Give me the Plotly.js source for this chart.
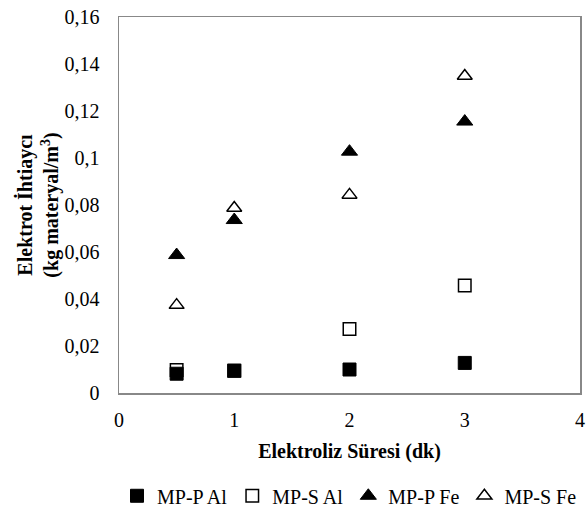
<!DOCTYPE html>
<html>
<head>
<meta charset="utf-8">
<script src="https://cdn.plot.ly/plotly-3.0.1.min.js"></script>
<style>html,body{margin:0;padding:0;background:#fff;}#chart{width:586px;height:509px;}</style>
</head>
<body>
<div id="chart"></div>
<script>
const times = [0.5, 1, 2, 3];
const mppAl = [0.0082, 0.0095, 0.0100, 0.0128];
const mpsAl = [0.0098, 0.0095, 0.0272, 0.0457];
const mppFe = [0.0587, 0.0736, 0.1027, 0.1155];
const mpsFe = [0.0374, 0.0787, 0.0843, 0.1349];
const seriesNames = ["MP-P Al", "MP-S Al", "MP-P Fe", "MP-S Fe"];

const ctx = document.createElement("canvas").getContext("2d");
function measure(txt, fam, size, bold) {
  ctx.font = (bold ? "bold " : "") + size + "px \"" + fam + "\", monospace";
  return ctx.measureText(txt).width;
}
const candidates = ["Liberation Serif", "Times New Roman", "Tinos", "Nimbus Roman", "Nimbus Roman No9 L", "Times", "FreeSerif"];
let FAM = "DejaVu Serif";
for (const c of candidates) {
  const w = measure("0000000000", c, 100, false);
  if (Math.abs(w - 500) < 6) { FAM = c; break; }
}
function fit(txt, target, bold) {
  const s = 20 * target / measure(txt, FAM, 20, bold);
  return Math.min(20, Math.round(s * 2) / 2);
}
const tickSize = fit("0,16", 37, false);
const legSize = fit("MP-P Al", 73, false);
const titleSize = fit("Elektroliz Süresi (dk)", 196, true);
const FONT = "\"" + FAM + "\", serif";

const traces = [
  {x: times, y: mppAl, name: seriesNames[0], type: "scatter", mode: "markers",
   marker: {symbol: "square", size: 13, color: "#000", line: {color: "#000", width: 1}}},
  {x: times, y: mpsAl, name: seriesNames[1], type: "scatter", mode: "markers",
   marker: {symbol: "square", size: 12.5, color: "rgba(255,255,255,0)", line: {color: "#000", width: 1.5}}},
  {x: times, y: mppFe, name: seriesNames[2], type: "scatter", mode: "markers",
   marker: {symbol: "triangle-up", size: 14, color: "#000", line: {color: "#000", width: 1}}},
  {x: times, y: mpsFe, name: seriesNames[3], type: "scatter", mode: "markers",
   marker: {symbol: "triangle-up", size: 13, color: "rgba(255,255,255,0)", line: {color: "#000", width: 1.5}}}
];

const layout = {
  width: 586, height: 509,
  margin: {l: 119, r: 6, t: 17, b: 116, autoexpand: false},
  paper_bgcolor: "#fff", plot_bgcolor: "#fff",
  separators: ", ",
  font: {family: FONT, size: tickSize, color: "#000"},
  showlegend: true,
  legend: {orientation: "h", x: 0.5, xanchor: "center", xref: "paper",
           y: 0.026, yanchor: "middle", yref: "container",
           font: {family: FONT, size: legSize}, itemwidth: 30, traceorder: "normal"},
  xaxis: {range: [0, 4], dtick: 1, tick0: 0, showgrid: false, zeroline: false,
          showline: true, linecolor: "#888", linewidth: 1.5, mirror: true, ticks: "",
          ticklabelstandoff: 8, tickfont: {family: FONT, size: tickSize},
          title: {text: "<b>Elektroliz Süresi (dk)</b>", font: {family: FONT, size: titleSize}, standoff: 14}},
  yaxis: {range: [0, 0.16], dtick: 0.02, tick0: 0, showgrid: false, zeroline: false,
          showline: true, linecolor: "#888", linewidth: 1.5, mirror: true, ticks: "",
          ticklabelstandoff: 14, tickfont: {family: FONT, size: tickSize},
          title: {text: "<b>Elektrot İhtiaycı<br>(kg materyal/m<sup>3</sup>)</b>", font: {family: FONT, size: titleSize}, standoff: 0}}
};

Plotly.newPlot("chart", traces, layout, {displayModeBar: false, staticPlot: true});
</script>
</body>
</html>
